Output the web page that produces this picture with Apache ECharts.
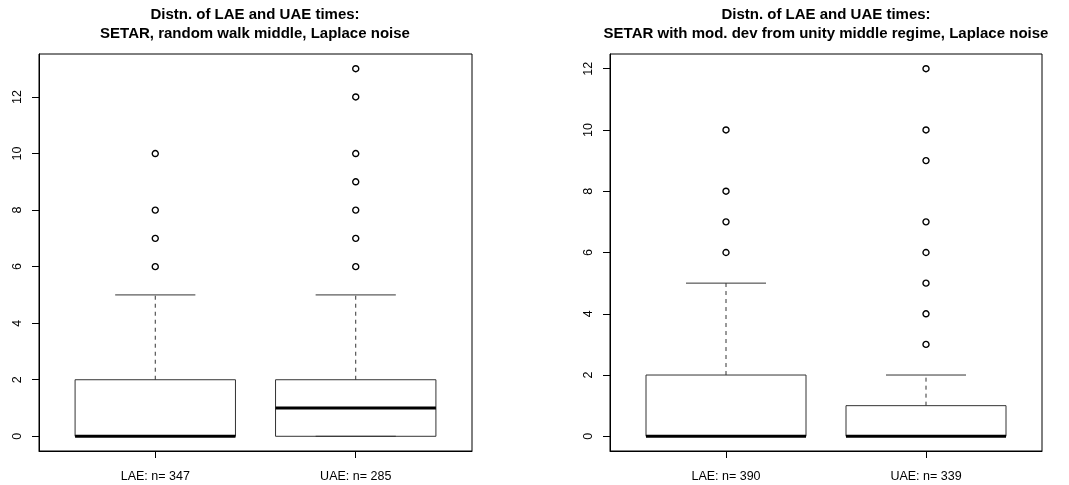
<!DOCTYPE html>
<html>
<head>
<meta charset="utf-8">
<script src="https://cdn.jsdelivr.net/npm/echarts@6/dist/echarts.min.js"></script>
<style>
  html, body { margin: 0; padding: 0; background: #fff; }
  #chart { width: 1069px; height: 485px; }
</style>
</head>
<body>
<div id="chart"></div>
<script>
// Panel 1: SETAR, random walk middle
var leftLabels = ['LAE: n= 347', 'UAE: n= 285'];
// [lower whisker, Q1, median, Q3, upper whisker]
var leftStats = [[0, 0, 0, 2, 5], [0, 0, 1, 2, 5]];
var leftOutliers = [[6, 7, 8, 10], [6, 7, 8, 9, 10, 12, 13]];
var leftYTicks = [0, 2, 4, 6, 8, 10, 12];

// Panel 2: SETAR with mod. dev from unity middle regime
var rightLabels = ['LAE: n= 390', 'UAE: n= 339'];
var rightStats = [[0, 0, 0, 2, 5], [0, 0, 0, 1, 2]];
var rightOutliers = [[6, 7, 8, 10], [3, 4, 5, 6, 7, 9, 10, 12]];
var rightYTicks = [0, 2, 4, 6, 8, 10, 12];

var titles = [
    'Distn. of LAE and UAE times:\nSETAR, random walk middle, Laplace noise',
    'Distn. of LAE and UAE times:\nSETAR with mod. dev from unity middle regime, Laplace noise'
];

var font = "'Liberation Sans', Arial, Helvetica, sans-serif";

// R-style range: data range plus 4% on each side
function yRange(stats, outliers) {
    var all = [];
    stats.forEach(function (s) { all = all.concat(s); });
    outliers.forEach(function (o) { all = all.concat(o); });
    var lo = Math.min.apply(null, all), hi = Math.max.apply(null, all);
    var pad = (hi - lo) * 0.04;
    return [lo - pad, hi + pad];
}

function renderBox(params, api) {
    var x = api.value(0);
    var low = api.coord([x, api.value(1)]);
    var q1 = api.coord([x, api.value(2)]);
    var med = api.coord([x, api.value(3)]);
    var q3 = api.coord([x, api.value(4)]);
    var high = api.coord([x, api.value(5)]);
    var w = api.size([0.8, 0])[0];
    var cx = med[0];
    var dashed = { stroke: '#333', lineWidth: 1, lineDash: [4, 4] };
    var solid = { stroke: '#333', lineWidth: 1 };
    return {
        type: 'group',
        children: [
            { type: 'line', shape: { x1: cx, y1: q3[1], x2: cx, y2: high[1] }, style: dashed },
            { type: 'line', shape: { x1: cx, y1: low[1], x2: cx, y2: q1[1] }, style: dashed },
            { type: 'line', shape: { x1: cx - w / 4, y1: high[1], x2: cx + w / 4, y2: high[1] }, style: solid },
            { type: 'line', shape: { x1: cx - w / 4, y1: low[1], x2: cx + w / 4, y2: low[1] }, style: solid },
            { type: 'rect', shape: { x: cx - w / 2, y: q3[1], width: w, height: q1[1] - q3[1] }, style: { fill: 'none', stroke: '#333', lineWidth: 1 } },
            { type: 'line', shape: { x1: cx - w / 2, y1: med[1], x2: cx + w / 2, y2: med[1] }, style: { stroke: '#000', lineWidth: 3 } }
        ]
    };
}

function panel(idx, labels, stats, outliers, yTicks) {
    var n = labels.length;
    var yr = yRange(stats, outliers);
    var xAxis = {
        gridIndex: idx, type: 'value',
        min: 0.5 - 0.04 * n, max: n + 0.5 + 0.04 * n,
        splitLine: { show: false },
        axisLine: { show: true, onZero: false, lineStyle: { color: '#000' } },
        axisTick: { show: true, customValues: labels.map(function (l, i) { return i + 1; }), length: 7, lineStyle: { color: '#000' } },
        axisLabel: {
            customValues: labels.map(function (l, i) { return i + 1; }),
            formatter: function (v) { return labels[Math.round(v) - 1]; },
            margin: 19, fontSize: 12.5, color: '#000', fontFamily: font
        }
    };
    var yAxis = {
        gridIndex: idx, type: 'value',
        min: yr[0], max: yr[1],
        splitLine: { show: false },
        axisLine: { show: true, onZero: false, lineStyle: { color: '#000' } },
        axisTick: { show: true, customValues: yTicks, length: 7, lineStyle: { color: '#000' } },
        axisLabel: {
            customValues: yTicks, rotate: 90,
            margin: 15, fontSize: 12.5, color: '#000', fontFamily: font
        }
    };
    var boxData = stats.map(function (s, i) { return [i + 1].concat(s); });
    var outData = [];
    outliers.forEach(function (o, i) {
        o.forEach(function (v) { outData.push([i + 1, v]); });
    });
    var series = [
        {
            type: 'custom', xAxisIndex: idx, yAxisIndex: idx,
            renderItem: renderBox, data: boxData,
            encode: { x: 0, y: [1, 2, 3, 4, 5] }, silent: true
        },
        {
            type: 'scatter', xAxisIndex: idx, yAxisIndex: idx,
            symbol: 'circle', symbolSize: 6,
            itemStyle: { color: '#fff', borderColor: '#000', borderWidth: 1.4, opacity: 1 },
            data: outData, silent: true, z: 5
        }
    ];
    return { xAxis: xAxis, yAxis: yAxis, series: series };
}

var p1 = panel(0, leftLabels, leftStats, leftOutliers, leftYTicks);
var p2 = panel(1, rightLabels, rightStats, rightOutliers, rightYTicks);

var chart = echarts.init(document.getElementById('chart'));
chart.setOption({
    animation: false,
    backgroundColor: '#fff',
    title: [
        {
            text: titles[0], left: 255, top: 5, padding: 0, textAlign: 'center',
            textStyle: { fontSize: 15, fontWeight: 'bold', color: '#000', fontFamily: font, lineHeight: 19 }
        },
        {
            text: titles[1], left: 826, top: 5, padding: 0, textAlign: 'center',
            textStyle: { fontSize: 15, fontWeight: 'bold', color: '#000', fontFamily: font, lineHeight: 19 }
        }
    ],
    grid: [
        { left: 39, right: 597, top: 54, bottom: 34, show: true, borderColor: '#000', borderWidth: 1, backgroundColor: 'transparent' },
        { left: 610, right: 27, top: 54, bottom: 34, show: true, borderColor: '#000', borderWidth: 1, backgroundColor: 'transparent' }
    ],
    xAxis: [p1.xAxis, p2.xAxis],
    yAxis: [p1.yAxis, p2.yAxis],
    series: p1.series.concat(p2.series)
});
</script>
</body>
</html>
